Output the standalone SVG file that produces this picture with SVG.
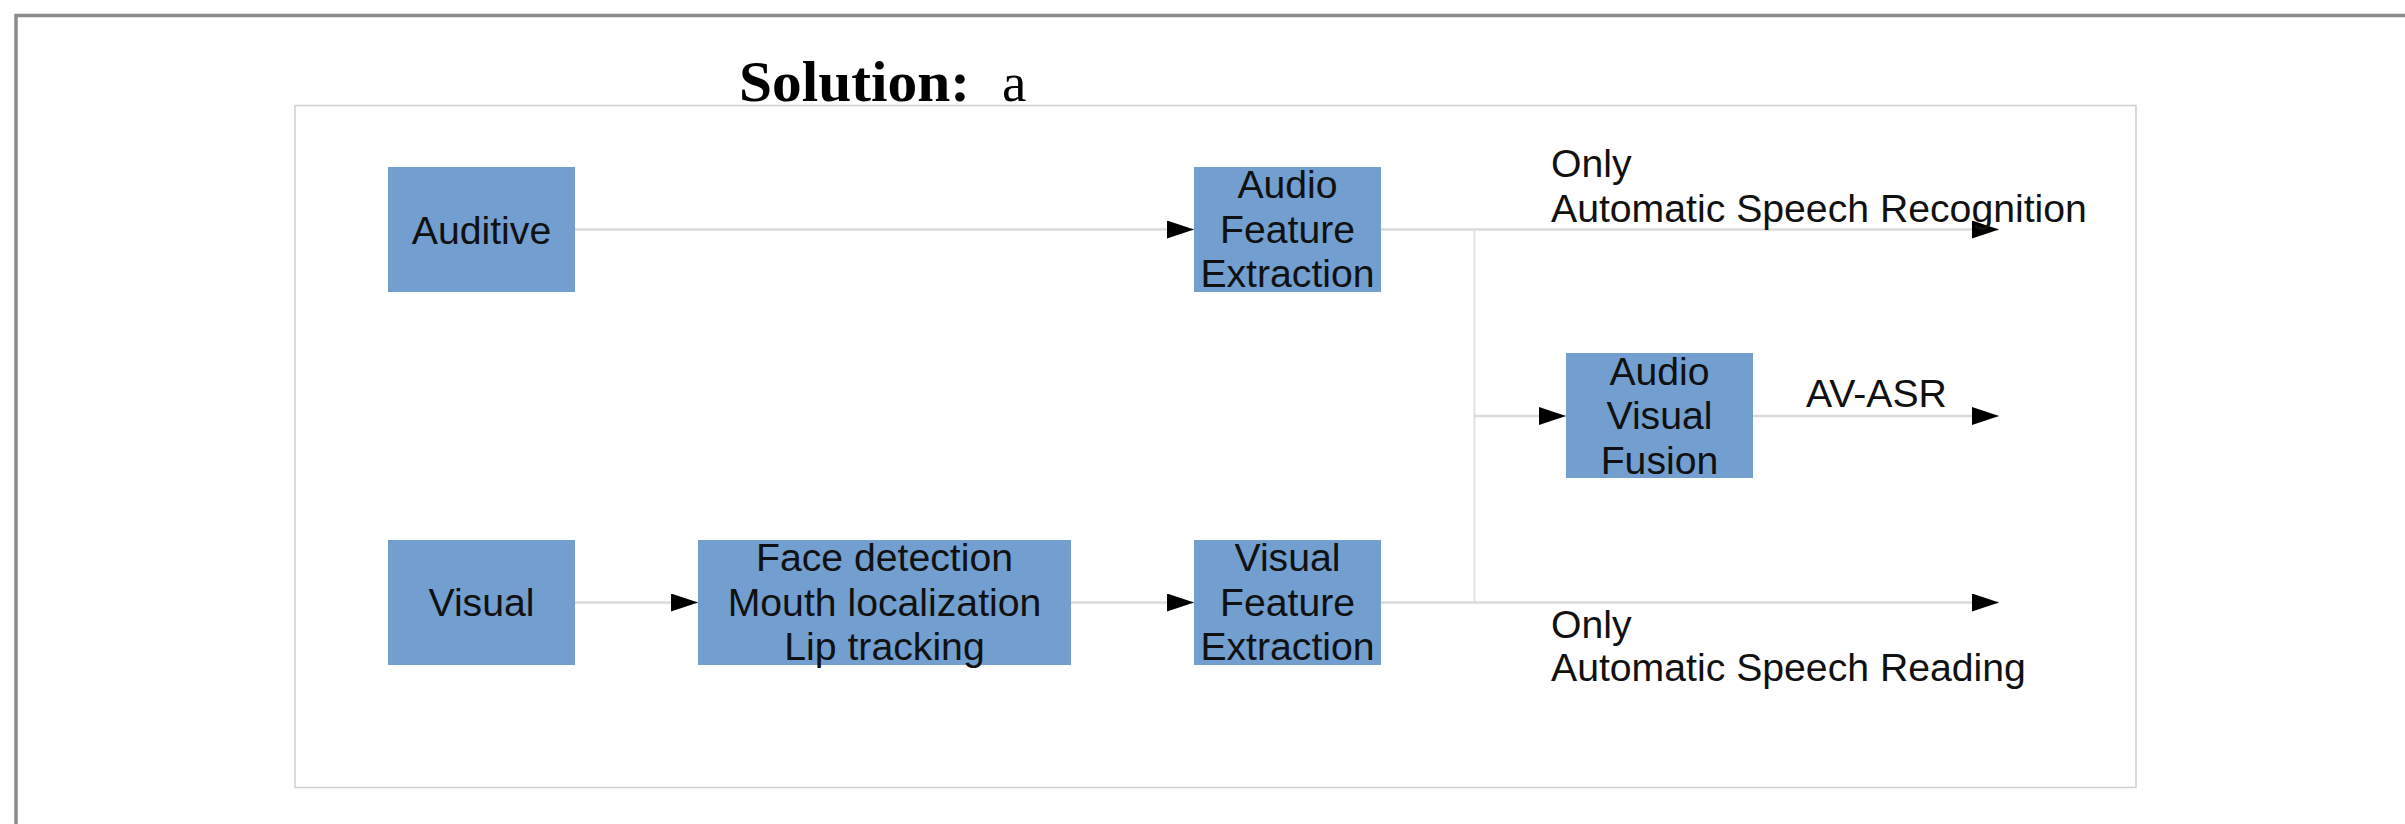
<svg xmlns="http://www.w3.org/2000/svg" width="2405" height="824" viewBox="0 0 2405 824">
  <defs>
    <style>
      .box { fill: #729fcf; }
      .lbl { font-family: "Liberation Sans", Arial, sans-serif; font-size: 39.2px; fill: #111; }
      .mid { text-anchor: middle; }
      .wire { fill: none; stroke: #dadada; stroke-width: 2.5; }
      .wire-v { fill: none; stroke: #e2e2e2; stroke-width: 1.8; }
    </style>
    <marker id="arrow" markerUnits="userSpaceOnUse" markerWidth="27" markerHeight="18" refX="27" refY="9" orient="auto">
      <path d="M0,0 L27,9 L0,18 z" fill="#000"/>
    </marker>
  </defs>

  <rect width="2405" height="824" fill="#fff"/>

  <!-- page frame -->
  <path d="M16,824 V15.5 H2405" fill="none" stroke="#8c8c8c" stroke-width="3.5"/>

  <!-- heading -->
  <text x="739" y="101" font-family="'Liberation Serif', 'Times New Roman', serif" font-size="57" font-weight="bold" fill="#000" textLength="231" lengthAdjust="spacingAndGlyphs">Solution:</text>
  <text x="1002" y="101" font-family="'Liberation Serif', 'Times New Roman', serif" font-size="55" fill="#000">a</text>

  <!-- drawing area -->
  <rect x="295" y="105.5" width="1841" height="682" fill="#fff" stroke="#cfcfcf" stroke-width="1.5"/>

  <!-- connectors -->
  <g id="connectors">
    <path class="wire" d="M575,229.5 H1194" marker-end="url(#arrow)"/>
    <path class="wire" d="M1381,229.5 H1999" marker-end="url(#arrow)"/>
    <path class="wire-v" d="M1474.5,229.5 V602.5"/>
    <path class="wire" d="M1474.5,416 H1566" marker-end="url(#arrow)"/>
    <path class="wire" d="M1753,416 H1999" marker-end="url(#arrow)"/>
    <path class="wire" d="M1381,602.5 H1999" marker-end="url(#arrow)"/>
    <path class="wire" d="M575,602.5 H698" marker-end="url(#arrow)"/>
    <path class="wire" d="M1071,602.5 H1194" marker-end="url(#arrow)"/>
  </g>

  <g id="auditive">
    <rect class="box" x="388" y="167" width="187" height="125"/>
    <text class="lbl mid" x="481.5" y="243.5">Auditive</text>
  </g>

  <g id="audio-feature-extraction">
    <rect class="box" x="1194" y="167" width="187" height="125"/>
    <text class="lbl mid" x="1287.5" y="198">Audio</text>
    <text class="lbl mid" x="1287.5" y="242.5">Feature</text>
    <text class="lbl mid" x="1287.5" y="287">Extraction</text>
  </g>

  <g id="visual">
    <rect class="box" x="388" y="540" width="187" height="125"/>
    <text class="lbl mid" x="481.5" y="616">Visual</text>
  </g>

  <g id="face-mouth-lip">
    <rect class="box" x="698" y="540" width="373" height="125"/>
    <text class="lbl mid" x="884.5" y="571">Face detection</text>
    <text class="lbl mid" x="884.5" y="615.5">Mouth localization</text>
    <text class="lbl mid" x="884.5" y="660">Lip tracking</text>
  </g>

  <g id="visual-feature-extraction">
    <rect class="box" x="1194" y="540" width="187" height="125"/>
    <text class="lbl mid" x="1287.5" y="571">Visual</text>
    <text class="lbl mid" x="1287.5" y="615.5">Feature</text>
    <text class="lbl mid" x="1287.5" y="660">Extraction</text>
  </g>

  <g id="audio-visual-fusion">
    <rect class="box" x="1566" y="353" width="187" height="125"/>
    <text class="lbl mid" x="1659.5" y="384.5">Audio</text>
    <text class="lbl mid" x="1659.5" y="429">Visual</text>
    <text class="lbl mid" x="1659.5" y="473.5">Fusion</text>
  </g>

  <!-- output labels -->
  <g id="output-labels">
    <text class="lbl" x="1551" y="176.5">Only</text>
    <text class="lbl" x="1551" y="221.5">Automatic Speech Recognition</text>
    <text class="lbl" x="1806" y="406.5">AV-ASR</text>
    <text class="lbl" x="1551" y="637.5">Only</text>
    <text class="lbl" x="1551" y="681">Automatic Speech Reading</text>
  </g>
</svg>
